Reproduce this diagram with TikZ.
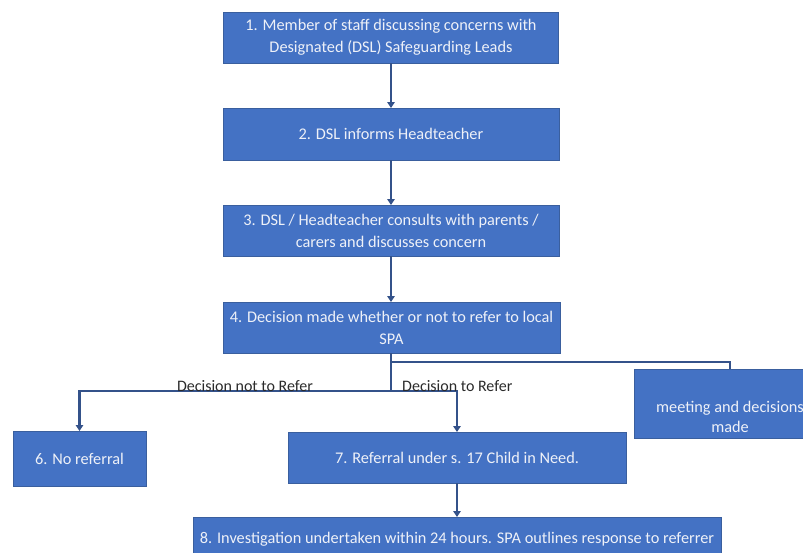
\documentclass[tikz,border=0pt]{standalone}
\usepackage{fontspec}
\setmainfont{Carlito}
\usetikzlibrary{arrows.meta,calc}
\definecolor{boxblue}{HTML}{4472C4}
\definecolor{boxedge}{HTML}{3A5F9E}
\definecolor{linkblue}{HTML}{34528A}
\definecolor{boxtext}{HTML}{EEF1F8}
\definecolor{labtext}{HTML}{2B2B2B}
\tikzset{
  stepbox/.style={draw=boxedge, line width=0.8pt, fill=boxblue, text=boxtext,
    font=\fontsize{16.3}{22}\selectfont, align=center, inner sep=0pt, outer sep=0pt},
  plaintext/.style={text=boxtext, font=\fontsize{16.3}{20}\selectfont, align=center, inner sep=0pt},
  link/.style={draw=linkblue, line width=2.6pt, -{Triangle[width=7.5pt,length=6pt]}},
  linkplain/.style={draw=linkblue, line width=2.6pt},
  lab/.style={text=labtext, font=\fontsize{16}{18}\selectfont, inner sep=0pt}
}
\begin{document}
\begin{tikzpicture}[x=1pt,y=-1pt]
\useasboundingbox (0,0) rectangle (803,552);
\clip (0,0) rectangle (803,552);
\fill[white] (0,0) rectangle (803,552);

\node[stepbox, minimum width=335pt, minimum height=51pt] (b1) at (391,37.5)
  {1. Member of staff discussing concerns with\\Designated (DSL) Safeguarding Leads};
\node[stepbox, minimum width=336pt, minimum height=52pt] (b2) at (391,134)
  {2. DSL informs Headteacher};
\node[stepbox, minimum width=336pt, minimum height=51pt] (b3) at (391,230.5)
  {3. DSL / Headteacher consults with parents /\\carers and discusses concern};
\node[stepbox, minimum width=337pt, minimum height=51pt] (b4) at (391.5,327.5)
  {4. Decision made whether or not to refer to local\\SPA};
\node[stepbox, minimum width=192pt, minimum height=69pt] (b5) at (730,403.5) {};
\node[plaintext] (t5) at (730,417) {meeting and decisions\\made};
\node[stepbox, minimum width=133pt, minimum height=55pt] (b6) at (79.5,458.5)
  {6. No referral};
\node[stepbox, minimum width=338pt, minimum height=51pt] (b7) at (457,457.5)
  {7. Referral under s. 17 Child in Need.};
\node[stepbox, minimum width=528pt, minimum height=45pt] (b8) at (457,539.5)
  {8. Investigation undertaken within 24 hours. SPA outlines response to referrer};

\draw[link] (b1.south) -- (b1.south |- b2.north);
\draw[link] (b2.south) -- (b2.south |- b3.north);
\draw[link] (b3.south) -- (b3.south |- b4.north);

\coordinate (jr) at (391,362);
\coordinate (jl) at (391,391);
\draw[linkplain] (b4.south -| jl) -- (jl);
\draw[link] (jl) -| (b6.north);
\draw[link] (jl) -| (b7.north);
\draw[linkplain] (jr) -| (b5.north);
\draw[link] (b7.south) -- (b7.south |- b8.north);

\node[lab, anchor=base] (l1) at (245,391) {Decision not to Refer};
\node[lab, anchor=base west] (l2) at (402,391) {Decision to Refer};
\end{tikzpicture}
\end{document}
